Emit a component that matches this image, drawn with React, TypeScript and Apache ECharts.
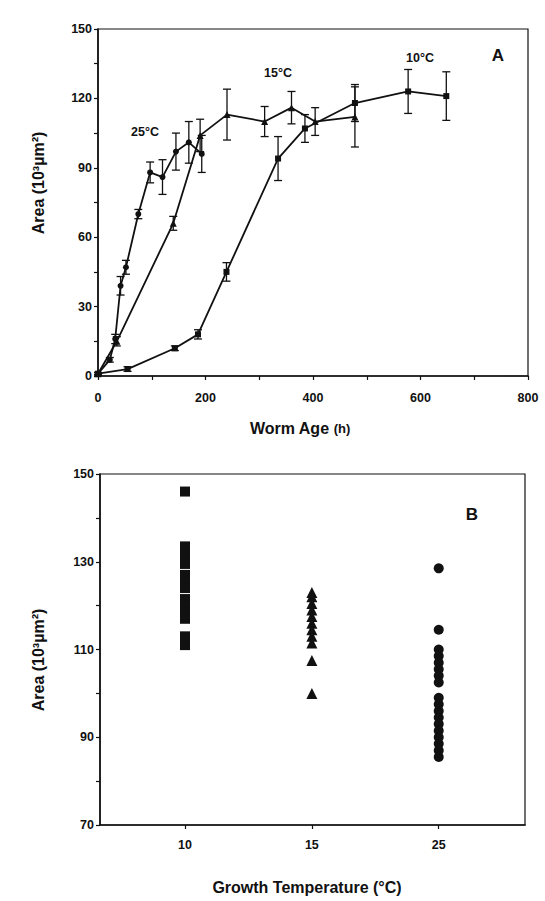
import React, { useEffect, useRef } from "react";
import * as echarts from "echarts";

// ---------- Panel A data (worm age in h, area in 10^3 µm^2, ± error) ----------
const ageA25 = [0, 22, 32, 42, 52, 75, 97, 120, 145, 169, 193];
const areaA25 = [1, 7, 16, 39, 47, 70, 88, 86, 97, 101, 96];
const errA25 = [0.5, 1, 2, 4, 3, 2, 4.5, 7.5, 8, 9, 8];

const ageA15 = [0, 35, 140, 190, 240, 310, 360, 404, 478];
const areaA15 = [1, 15, 66, 104, 113, 110, 116, 110, 112];
const errA15 = [0.5, 2, 3, 7, 11, 6.5, 7, 6, 13];

const ageA10 = [0, 55, 143, 186, 239, 335, 385, 478, 577, 648];
const areaA10 = [1, 3, 12, 18, 45, 94, 107, 118, 123, 121];
const errA10 = [0.5, 1, 1, 2, 4, 9.5, 6, 8, 9.5, 10.5];

const xTicksA = [0, 100, 200, 300, 400, 500, 600, 700, 800];
const xLabelsA = [0, 200, 400, 600, 800];
const yTicksA = [0, 15, 30, 45, 60, 75, 90, 105, 120, 135, 150];
const yLabelsA = [0, 30, 60, 90, 120, 150];

// ---------- Panel B data (area at each growth temperature) ----------
const tempsB = ["10", "15", "25"];
const areaB10 = [146, 133.5, 131.5, 129.5, 127, 125.5, 124, 121.5, 120, 118.5, 117, 113, 111];
const areaB15 = [123, 122, 120.5, 119, 117.5, 116, 114.5, 113, 111.5, 107.5, 100];
const areaB25 = [128.5, 114.5, 110, 108.5, 107, 105.5, 104, 102.5, 99, 97.5, 96, 94.5, 93, 91.5, 90, 88.5, 87, 85.5];

const yTicksB = [70, 80, 90, 100, 110, 120, 130, 140, 150];
const yLabelsB = [70, 90, 110, 130, 150];

const INK = "#111";
const FONT = "'Liberation Sans', Arial, sans-serif";

function errData(xs: number[], ys: number[], es: number[]) {
  return xs.map((x, i) => [x, ys[i], ys[i] - es[i], ys[i] + es[i]]);
}

function renderErr(params: any, api: any) {
  const x = api.value(0);
  const lo = api.coord([x, api.value(2)]);
  const hi = api.coord([x, api.value(3)]);
  const w = 4;
  const st = { stroke: INK, lineWidth: 1.3 };
  return {
    type: "group",
    children: [
      { type: "line", shape: { x1: lo[0], y1: lo[1], x2: hi[0], y2: hi[1] }, style: st },
      { type: "line", shape: { x1: lo[0] - w, y1: lo[1], x2: lo[0] + w, y2: lo[1] }, style: st },
      { type: "line", shape: { x1: hi[0] - w, y1: hi[1], x2: hi[0] + w, y2: hi[1] }, style: st },
    ],
  };
}

const axisLineStyle = { show: true, onZero: false, lineStyle: { color: INK, width: 1.6 } };
const labelStyle = { color: INK, fontFamily: FONT, fontSize: 12.5, fontWeight: "bold" as const };

export default function App() {
  const ref = useRef<HTMLDivElement>(null);
  useEffect(() => {
    if (!ref.current) return;
    const chart = echarts.init(ref.current, undefined, { renderer: "svg" });
    const lineSeries = (name: string, xs: number[], ys: number[], symbol: string, size: number) => ({
      name,
      type: "line",
      xAxisIndex: 0,
      yAxisIndex: 0,
      data: xs.map((x, i) => [x, ys[i]]),
      symbol,
      symbolSize: size,
      showSymbol: true,
      itemStyle: { color: INK, opacity: 1 },
      lineStyle: { color: INK, width: 1.8 },
      z: 3,
    });
    const errSeries = (xs: number[], ys: number[], es: number[]) => ({
      type: "custom",
      xAxisIndex: 0,
      yAxisIndex: 0,
      data: errData(xs, ys, es),
      renderItem: renderErr,
      encode: { x: 0, y: [1, 2, 3] },
      z: 2,
    });
    const scatterB = (idx: number, ys: number[], symbol: string, size: number) => ({
      type: "scatter",
      xAxisIndex: 1,
      yAxisIndex: 1,
      data: ys.map((v) => [idx, v]),
      symbol,
      symbolSize: size,
      itemStyle: { color: INK, opacity: 1 },
    });
    const titleText = (x: number, y: number, text: string, size: number, rotation = 0) => ({
      type: "text",
      x,
      y,
      rotation,
      style: { text, align: "center", verticalAlign: "middle", fill: INK, font: `bold ${size}px ${FONT}` },
    });
    const option: any = {
      animation: false,
      backgroundColor: "#fff",
      grid: [
        { left: 98, top: 29, width: 430, height: 347, show: true, borderColor: INK, borderWidth: 1.2 },
        { left: 100, top: 474, width: 425, height: 351, show: true, borderColor: INK, borderWidth: 1.2 },
      ],
      xAxis: [
        {
          type: "value",
          gridIndex: 0,
          min: 0,
          max: 800,
          axisLine: axisLineStyle,
          axisTick: { show: true, customValues: xTicksA, length: 4, lineStyle: { color: INK, width: 1.2 } },
          axisLabel: { ...labelStyle, customValues: xLabelsA, margin: 15 },
          splitLine: { show: false },
        },
        {
          type: "value",
          gridIndex: 1,
          min: -0.67,
          max: 2.68,
          axisLine: axisLineStyle,
          axisTick: { show: true, customValues: [0, 1, 2], length: 4, lineStyle: { color: INK, width: 1.2 } },
          axisLabel: {
            ...labelStyle,
            customValues: [0, 1, 2],
            margin: 13,
            formatter: (v: number) => tempsB[Math.round(v)] ?? "",
          },
          splitLine: { show: false },
        },
      ],
      yAxis: [
        {
          type: "value",
          gridIndex: 0,
          min: 0,
          max: 150,
          axisLine: axisLineStyle,
          axisTick: { show: true, customValues: yTicksA, length: 4, lineStyle: { color: INK, width: 1.2 } },
          axisLabel: { ...labelStyle, customValues: yLabelsA, margin: 6 },
          splitLine: { show: false },
        },
        {
          type: "value",
          gridIndex: 1,
          min: 70,
          max: 150,
          axisLine: axisLineStyle,
          axisTick: { show: true, customValues: yTicksB, length: 4, lineStyle: { color: INK, width: 1.2 } },
          axisLabel: { ...labelStyle, customValues: yLabelsB, margin: 6 },
          splitLine: { show: false },
        },
      ],
      graphic: [
        titleText(145, 132, "25°C", 12.5),
        titleText(278, 73, "15°C", 12.5),
        titleText(420, 58, "10°C", 12.5),
        titleText(498, 55, "A", 17),
        titleText(472, 514, "B", 17),
        {
          type: "text",
          x: 300,
          y: 428,
          style: {
            text: "{a|Worm Age }{b|(h)}",
            align: "center",
            verticalAlign: "middle",
            rich: {
              a: { fill: INK, fontFamily: FONT, fontSize: 16, fontWeight: "bold" },
              b: { fill: INK, fontFamily: FONT, fontSize: 13, fontWeight: "bold" },
            },
          },
        },
        titleText(307, 887, "Growth Temperature (°C)", 16),
        titleText(38, 183, "Area (10³µm²)", 16, Math.PI / 2),
        titleText(38, 660, "Area (10³µm²)", 16, Math.PI / 2),
      ],
      series: [
        errSeries(ageA25, areaA25, errA25),
        errSeries(ageA15, areaA15, errA15),
        errSeries(ageA10, areaA10, errA10),
        lineSeries("25°C", ageA25, areaA25, "circle", 6),
        lineSeries("15°C", ageA15, areaA15, "triangle", 7),
        lineSeries("10°C", ageA10, areaA10, "rect", 6),
        scatterB(0, areaB10, "rect", 10),
        scatterB(1, areaB15, "triangle", 11),
        scatterB(2, areaB25, "circle", 10),
      ],
    };
    chart.setOption(option);
    return () => chart.dispose();
  }, []);
  return <div ref={ref} style={{ position: "absolute", left: 0, top: 0, width: 545, height: 901 }} />;
}
